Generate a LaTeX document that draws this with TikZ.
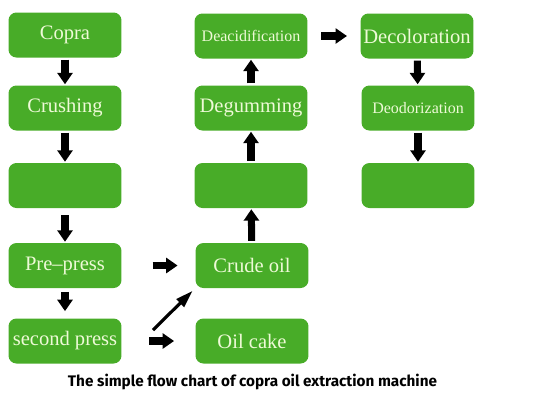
\documentclass[tikz,border=0pt]{standalone}
\usepackage{fontspec}
\setmainfont{Liberation Serif}
\newfontfamily\captionfont{Fira Sans}
\usetikzlibrary{arrows.meta}
\definecolor{boxgreen}{RGB}{72,172,40}
\definecolor{boxtext}{RGB}{238,250,215}
\tikzset{
  stage/.style={fill=boxgreen,text=boxtext,rounded corners=4.5pt,inner sep=0pt,
    minimum width=2.26cm,minimum height=0.9cm,font=\fontsize{11.7}{14}\selectfont},
  smallstage/.style={stage,font=\fontsize{9.1}{11}\selectfont},
  flow/.style={line width=4pt,-{Triangle[length=6.5pt,width=8.5pt]},
    shorten <=1pt,shorten >=0.5pt},
  thinflow/.style={line width=1.8pt,-{Triangle[length=10pt,width=6pt]}},
  chartcaption/.style={font=\captionfont\bfseries\fontsize{8.7}{10}\selectfont}
}
\begin{document}
\begin{tikzpicture}[x=0.02cm,y=-0.02cm]
    \useasboundingbox (0,0) rectangle (550,400);
    % left column
    \node[stage] (copra) at (65,35) {Copra};
    \node[stage] (crushing) at (65,108) {Crushing};
    \node[stage] (blankleft) at (65,185.5) {};
    \node[stage] (prepress) at (65,265.5) {Pre--press};
    \node[stage] (secondpress) at (65,341) {second press};
    % middle column
    \node[smallstage] (deacid) at (251,36) {Deacidification};
    \node[stage] (degum) at (251,108) {Degumming};
    \node[stage] (blankmid) at (251,185.5) {};
    \node[stage] (crude) at (252,265.5) {Crude oil};
    \node[stage] (cake) at (252,341) {Oil cake};
    % right column
    \node[stage] (decolor) at (417,36) {Decoloration};
    \node[smallstage] (deodor) at (418,108) {Deodorization};
    \node[stage] (blankright) at (418,185.5) {};
    \node[chartcaption] (title) at (252.5,382) {The simple flow chart of copra oil extraction machine};
    \coordinate (diagtail) at (153,330);
    \foreach \a/\b in {copra/crushing,crushing/blankleft,decolor/deodor,deodor/blankright,
                       crude/blankmid,blankmid/degum,degum/deacid}
    \draw[flow] (\a) -- (\b);
    \draw[flow,shorten <=4pt] (blankleft) -- (prepress);
    \draw[flow,shorten <=2pt,shorten >=4pt] (prepress) -- (secondpress);
    \draw[flow,shorten <=7.5pt,shorten >=7.5pt] (deacid) -- (decolor);
    \draw[flow,shorten <=17.5pt,shorten >=10pt] (prepress) -- (crude);
    \draw[flow,shorten <=15.5pt,shorten >=12pt] (secondpress) -- (cake);
    \draw[thinflow,shorten >=2pt] (diagtail) -- (crude.south west);
  \end{tikzpicture}
\end{document}
